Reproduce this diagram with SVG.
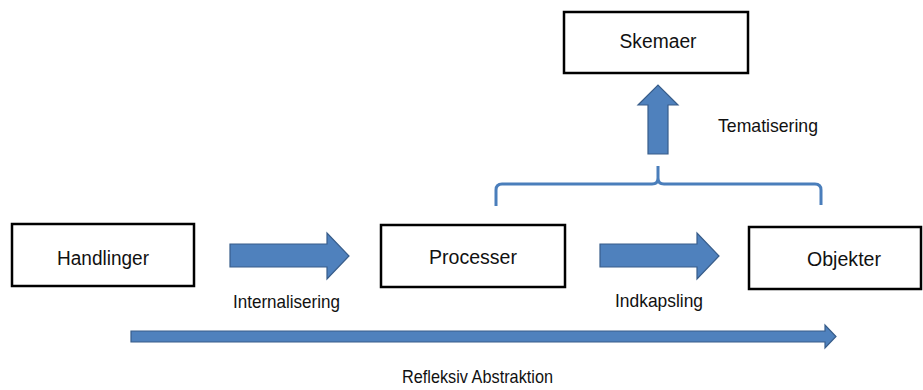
<svg xmlns="http://www.w3.org/2000/svg" width="923" height="390" viewBox="0 0 923 390">
<style>
.box{fill:#fff;stroke:#000;stroke-width:2.5}
.t{font-family:"Liberation Sans",Arial,sans-serif;font-size:20px;fill:#111;text-anchor:middle}
.l{font-family:"Liberation Sans",Arial,sans-serif;font-size:18.5px;fill:#111;text-anchor:middle}
.arr{fill:#4F81BD;stroke:#385D8A;stroke-width:1.2}
.brace{fill:none;stroke:#4A7EBB;stroke-width:3}
</style>
<rect width="923" height="390" fill="#fff"/>
<g id="handlinger"><rect class="box" x="12" y="224" width="182" height="62"/><text class="t" x="103" y="265" textLength="92" lengthAdjust="spacingAndGlyphs">Handlinger</text></g>
<g id="processer"><rect class="box" x="381" y="225" width="184" height="62"/><text class="t" x="473" y="264" textLength="88" lengthAdjust="spacingAndGlyphs">Processer</text></g>
<g id="objekter"><rect class="box" x="749" y="227" width="172" height="62"/><text class="t" x="844" y="266" textLength="74" lengthAdjust="spacingAndGlyphs">Objekter</text></g>
<g id="skemaer"><rect class="box" x="564" y="12" width="184" height="61"/><text class="t" x="658" y="48" textLength="77" lengthAdjust="spacingAndGlyphs">Skemaer</text></g>
<g id="connectors">
<path class="arr" d="M230,244 H327 V233 L349,256 L327,279 V267 H230 Z"/>
<path class="arr" d="M600,244 H697 V233 L719,256 L697,279 V267 H600 Z"/>
<path class="arr" d="M648,154 V105 H638 L658,85 L678,105 H668 V154 Z"/>
<path class="arr" d="M131,331 H825 V325 L836,336.5 L825,348 V342 H131 Z"/>
<path class="brace" d="M496,206 V190 Q496,184 502,184 H652 Q658,184 658,178 V166 V178 Q658,184 664,184 H815 Q821,184 821,190 V205"/>
<text class="l" x="286.5" y="308" textLength="107" lengthAdjust="spacingAndGlyphs">Internalisering</text>
<text class="l" x="659" y="307" textLength="88" lengthAdjust="spacingAndGlyphs">Indkapsling</text>
<text class="l" x="768" y="132" textLength="100" lengthAdjust="spacingAndGlyphs">Tematisering</text>
<text class="l" x="477.5" y="383" textLength="151" lengthAdjust="spacingAndGlyphs">Refleksiv Abstraktion</text>
</g>
</svg>
